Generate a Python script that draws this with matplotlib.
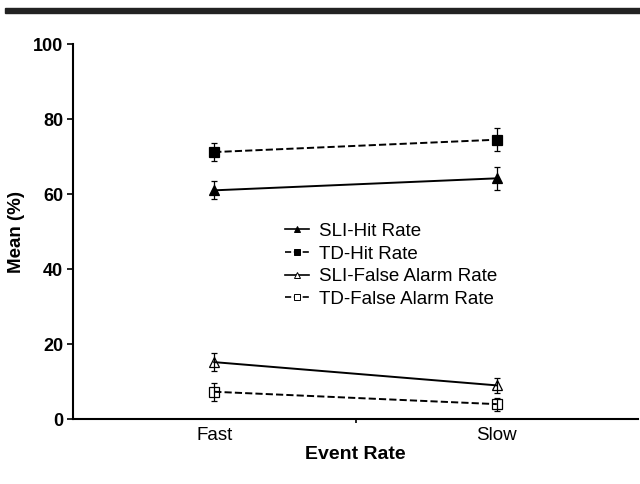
import numpy as np
import matplotlib.pyplot as plt
from matplotlib.patches import Rectangle
from matplotlib.lines import Line2D

plt.rcParams['font.family'] = ['Liberation Sans', 'DejaVu Sans']

rates = ['Fast', 'Slow']
sli_hit = [61.0, 64.2]
sli_hit_err = [2.4, 3.0]
td_hit = [71.2, 74.5]
td_hit_err = [2.5, 3.0]
sli_fa = [15.2, 9.0]
sli_fa_err = [2.4, 1.9]
td_fa = [7.3, 4.0]
td_fa_err = [2.4, 1.7]

x = np.arange(1, len(rates) + 1)

fig = plt.figure(figsize=(6.4, 4.84), dpi=100)
fig.patches.append(Rectangle((0.008, 0.973), 0.992, 0.011, transform=fig.transFigure,
                             color='#222222', zorder=0))
ax = fig.add_axes([0.114, 0.134, 0.883, 0.775])

series = [
    (sli_hit, sli_hit_err, '^', '-', 'black', 'SLI-Hit Rate'),
    (td_hit, td_hit_err, 's', '--', 'black', 'TD-Hit Rate'),
    (sli_fa, sli_fa_err, '^', '-', 'white', 'SLI-False Alarm Rate'),
    (td_fa, td_fa_err, 's', '--', 'white', 'TD-False Alarm Rate'),
]
handles = []
for y, err, mk, ls, fc, name in series:
    ax.plot(x, y, ls='none', marker=mk, ms=7.5, mfc=fc, mec='black', mew=0.9, zorder=1)
    ax.plot(x, y, ls=ls, color='black', lw=1.4, zorder=2)
    ax.errorbar(x, y, yerr=err, fmt='none', ecolor='black', elinewidth=0.9,
                capsize=2.5, capthick=0.9, zorder=3)
    handles.append(Line2D([], [], color='black', ls=ls, lw=1.2, marker=mk, ms=4,
                          mfc=fc, mec='black', mew=0.7, label=name))

ax.set_xlim(0.5, 2.5)
ax.set_ylim(0, 100)
ax.set_xticks(x)
ax.set_xticklabels(rates, fontsize=13.5)
ax.set_xticks([1.5], minor=True)
ax.set_yticks([0, 20, 40, 60, 80, 100])
ax.tick_params(axis='y', labelsize=13, length=4, width=1.2, pad=3)
ax.tick_params(axis='x', which='major', length=0, pad=6)
ax.tick_params(axis='x', which='minor', length=3, width=1.2)
for lbl in ax.get_yticklabels():
    lbl.set_fontweight('bold')
ax.spines['top'].set_visible(False)
ax.spines['right'].set_visible(False)
ax.spines['left'].set_linewidth(1.5)
ax.spines['bottom'].set_linewidth(1.5)
ax.set_ylabel('Mean (%)', fontsize=13.5, fontweight='bold', labelpad=6)
ax.set_xlabel('Event Rate', fontsize=14, fontweight='bold', labelpad=1)

ax.legend(handles=handles, loc='center', bbox_to_anchor=(0.563, 0.41), frameon=False,
          fontsize=13.5, handlelength=1.3, labelspacing=0.3, handletextpad=0.5)

fig.savefig('out.png', dpi=100)
